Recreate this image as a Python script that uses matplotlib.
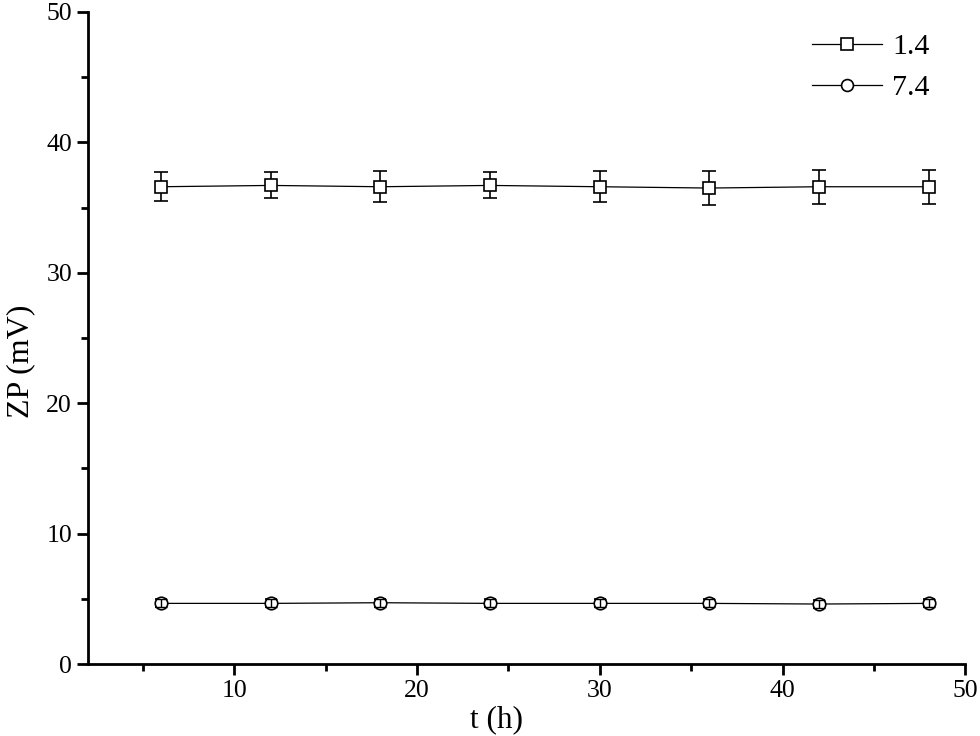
import matplotlib
matplotlib.use("Agg")
import matplotlib.pyplot as plt
from matplotlib.ticker import MultipleLocator

plt.rcParams['font.family'] = ['Liberation Serif', 'DejaVu Serif']

t = [6, 12, 18, 24, 30, 36, 42, 48]
zp_14 = [36.6, 36.7, 36.6, 36.7, 36.6, 36.5, 36.6, 36.6]
err_14 = [1.1, 1.0, 1.2, 1.0, 1.2, 1.3, 1.3, 1.3]
zp_74 = [4.65, 4.65, 4.7, 4.65, 4.65, 4.65, 4.6, 4.65]
err_74 = [0.3, 0.3, 0.3, 0.3, 0.3, 0.3, 0.3, 0.3]
labels = ['1.4', '7.4']

fig = plt.figure(figsize=(9.8, 7.36), dpi=100)
ax = fig.add_axes([0.0898, 0.0978, 0.8952, 0.8859])

ax.errorbar(t, zp_14, yerr=err_14, color='black', lw=0.9, marker='s', ms=8.5,
            mfc='white', mec='black', mew=1.2, capsize=4.8, elinewidth=1.2,
            capthick=1.2, label=labels[0])
ax.errorbar(t, zp_74, yerr=err_74, color='black', lw=0.9, marker='o', ms=9,
            mfc='white', mec='black', mew=1.2, capsize=4.5, elinewidth=1.2,
            capthick=1.2, label=labels[1])
# small error bars of the 7.4 series show through the open circles
ax.errorbar(t, zp_74, yerr=err_74, fmt='none', ecolor='black', capsize=4.0,
            elinewidth=1.0, capthick=1.0, zorder=3)

ax.set_xlim(2, 50)
ax.set_ylim(0, 50)
ax.xaxis.set_major_locator(MultipleLocator(10))
ax.xaxis.set_minor_locator(MultipleLocator(5))
ax.yaxis.set_major_locator(MultipleLocator(10))
ax.yaxis.set_minor_locator(MultipleLocator(5))
ax.spines['top'].set_visible(False)
ax.spines['right'].set_visible(False)
for s in ['left', 'bottom']:
    ax.spines[s].set_linewidth(2)
ax.tick_params(which='major', direction='out', length=8, width=2, labelsize=18.5)
ax.tick_params(which='minor', direction='out', length=5, width=2)
ax.set_xlabel('t (h)', fontsize=22.5)
ax.set_ylabel('ZP (mV)', fontsize=23)
# place axis labels (axes-fraction coordinates)
ax.xaxis.set_label_coords(0.466, -0.085)
ax.xaxis.label.set_va('center')
ax.yaxis.set_label_coords(-0.077, 0.465)
ax.yaxis.label.set_va('center')

h, l = ax.get_legend_handles_labels()
leg = ax.legend([hh[0] for hh in h[:2]], l[:2], loc='upper right', frameon=False,
                fontsize=21.5, handlelength=2.35, bbox_to_anchor=(0.98, 0.995),
                borderaxespad=0.2, labelspacing=0.48, handletextpad=0.35,
                markerscale=0.95)

fig.savefig('out.png', dpi=100)
